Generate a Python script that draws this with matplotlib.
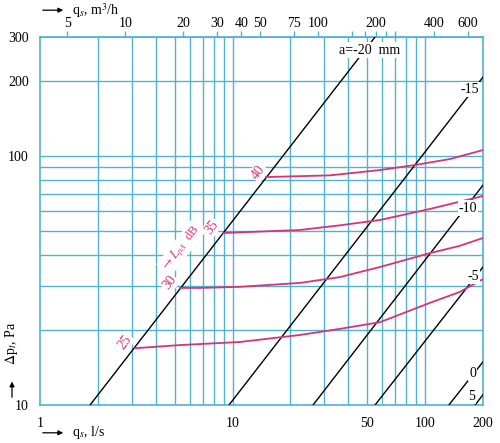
import matplotlib
matplotlib.use("Agg")
import matplotlib.pyplot as plt
from matplotlib.ticker import NullFormatter
from matplotlib.patches import FancyArrowPatch

plt.rcParams['font.family'] = ['Liberation Serif', 'DejaVu Serif']
plt.rcParams['mathtext.fontset'] = 'stix'

grid_col = '#4fb3cc'
pink = '#d8327a'

# black lines a (mm): start and end points (q l/s, dp Pa)
a_names = ['-20', '-15', '-10', '-5', '0', '5']
a_q = [(1.82, 55.0), (9.59, 200.0), (26.2, 200.0), (55.0, 200.0), (133.0, 200.0), (182.0, 200.0)]
a_dp = [(10.0, 300.0), (10.0, 207.0), (10.0, 76.3), (10.0, 35.8), (10.0, 14.9), (10.0, 11.0)]
a_lab_q = [51.8, 171.0, 167.0, 177.0, 177.0, 174.0]
a_lab_dp = [266.0, 184.0, 61.7, 32.7, 13.4, 10.8]

# sound level curves L_pA (dB)
l_names = ['25', '30', '35', '40']
l_q = [
    [3.12, 5.34, 10.9, 22.4, 36.0, 58.4, 106.0, 151.0, 200.0],
    [5.34, 6.8, 10.9, 22.4, 36.0, 58.4, 106.0, 151.0, 200.0],
    [8.92, 22.4, 36.0, 58.4, 106.0, 200.0],
    [14.9, 32.1, 58.4, 88.7, 134.9, 200.0],
]
l_dp = [
    [16.9, 17.4, 17.9, 19.1, 20.2, 21.5, 25.7, 28.4, 32.0],
    [29.5, 29.5, 29.8, 30.9, 32.6, 35.8, 40.7, 43.5, 46.8],
    [49.0, 50.4, 52.6, 55.3, 61.2, 69.0],
    [82.2, 83.5, 87.7, 91.9, 97.1, 105.5],
]
l_lab_q = [2.76, 4.73, 7.83, 13.6]
l_lab_dp = [17.9, 30.9, 51.8, 86.1]

xgrid = [2, 3, 4, 5, 6, 7, 8, 9, 10, 20, 30, 40, 50, 60, 70, 80, 90, 100]
ygrid = [20, 30, 40, 50, 60, 70, 80, 90, 100, 200]
xticks = [1, 10, 50, 100, 200]
yticks = [10, 100, 200, 300]
top_ticks = [5, 10, 20, 30, 40, 50, 75, 100, 200, 400, 600]
top_minor = [150, 175, 225, 250]

fig = plt.figure(figsize=(5.0, 4.43), dpi=100)
ax = fig.add_axes([0.08, 0.0858, 0.886, 0.8307])
ax.set_xscale('log')
ax.set_yscale('log')
ax.set_xlim(1, 200)
ax.set_ylim(10, 300)

for x in xgrid:
    ax.axvline(x, color=grid_col, lw=1.0, zorder=1)
for y in ygrid:
    ax.axhline(y, color=grid_col, lw=1.0, zorder=1)

for sp in ax.spines.values():
    sp.set_color(grid_col)
    sp.set_linewidth(1.2)

ax.set_xticks(xticks)
ax.set_xticklabels([str(v) for v in xticks])
ax.set_xticks([], minor=True)
ax.set_yticks(yticks)
ax.set_yticklabels([str(v) for v in yticks])
ax.set_yticks([], minor=True)
ax.tick_params(axis='both', length=0, labelsize=10)
ax.tick_params(axis='x', pad=9)
ax.tick_params(axis='y', pad=8)

sec = ax.secondary_xaxis('top', functions=(lambda q: q * 3.6, lambda m: m / 3.6))
sec.set_xticks(top_ticks)
sec.set_xticklabels([str(v) for v in top_ticks])
sec.set_xticks(top_minor, minor=True)
sec.xaxis.set_minor_formatter(NullFormatter())
sec.tick_params(axis='x', which='both', length=4, color=grid_col, width=1.0,
                labelsize=10, pad=1)
sec.spines['top'].set_color(grid_col)

for qq, dd in zip(a_q, a_dp):
    ax.plot(qq, dd, color='black', lw=1.0, zorder=3)

for qq, dd in zip(l_q, l_dp):
    ax.plot(qq, dd, color=pink, lw=1.3, zorder=3)

wb = dict(facecolor='white', edgecolor='none', pad=0.8)
ax.text(a_lab_q[0], a_lab_dp[0], 'a=-20  mm', ha='center', va='center',
        fontsize=10, bbox=wb, zorder=4)
for name, x, y in zip(a_names[1:], a_lab_q[1:], a_lab_dp[1:]):
    ax.text(x, y, name, ha='center', va='center', fontsize=10, bbox=wb, zorder=4)

for name, x, y in zip(l_names, l_lab_q, l_lab_dp):
    ax.text(x, y, name, ha='center', va='center', fontsize=10, color=pink,
            rotation=52, bbox=wb, zorder=4)
ax.text(5.41, 42.7, r'$\rightarrow L_{pA}$  dB', ha='center', va='center',
        fontsize=9, color=pink, rotation=52, bbox=wb, zorder=4)

# axis captions
fig.text(0.145, 0.977, r'q$_s$, m$^3$/h', ha='left', va='center', fontsize=10)
fig.add_artist(FancyArrowPatch(
    (0.08, 0.977), (0.132, 0.977), transform=fig.transFigure,
    arrowstyle='-|>', mutation_scale=7, lw=0.9, color='black'))
fig.text(0.145, 0.023, r'q$_s$, l/s', ha='left', va='center', fontsize=10)
fig.add_artist(FancyArrowPatch(
    (0.08, 0.023), (0.132, 0.023), transform=fig.transFigure,
    arrowstyle='-|>', mutation_scale=7, lw=0.9, color='black'))
fig.text(0.024, 0.225, r'$\Delta$p$_t$, Pa', ha='center', va='center',
         fontsize=10, rotation=90)
fig.add_artist(FancyArrowPatch(
    (0.024, 0.097), (0.024, 0.145), transform=fig.transFigure,
    arrowstyle='-|>', mutation_scale=7, lw=0.9, color='black'))

fig.savefig('out.png', dpi=100)
